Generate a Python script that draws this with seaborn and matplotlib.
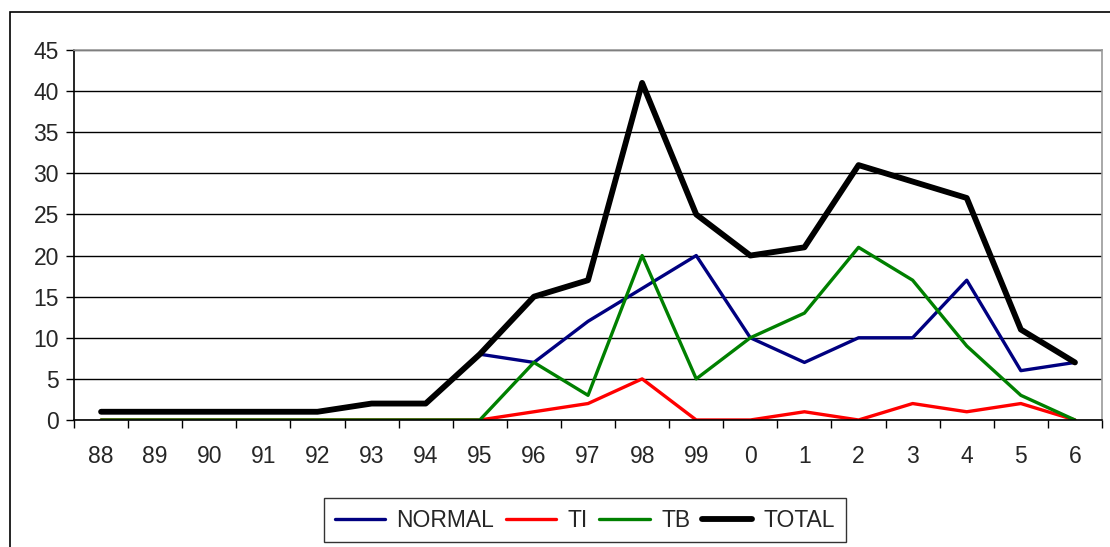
import numpy as np
import pandas as pd
import seaborn as sns
import matplotlib.pyplot as plt
from matplotlib.patches import Rectangle

years = ["88", "89", "90", "91", "92", "93", "94", "95", "96", "97",
         "98", "99", "0", "1", "2", "3", "4", "5", "6"]
normal = [1, 1, 1, 1, 1, 2, 2, 8, 7, 12, 16, 20, 10, 7, 10, 10, 17, 6, 7]
ti = [0, 0, 0, 0, 0, 0, 0, 0, 1, 2, 5, 0, 0, 1, 0, 2, 1, 2, 0]
tb = [0, 0, 0, 0, 0, 0, 0, 0, 7, 3, 20, 5, 10, 13, 21, 17, 9, 3, 0]
total = [1, 1, 1, 1, 1, 2, 2, 8, 15, 17, 41, 25, 20, 21, 31, 29, 27, 11, 7]

sns.set_style("white")
plt.rcParams["font.family"] = ["Liberation Sans", "DejaVu Sans"]

pos = np.arange(len(years))
df = pd.DataFrame({"pos": pos, "NORMAL": normal, "TI": ti, "TB": tb, "TOTAL": total})

fig = plt.figure(figsize=(11.1, 5.47), dpi=100)
ax = fig.add_axes([0.0667, 0.2322, 0.9261, 0.6764])

# outer chart frame
fig.patches.append(Rectangle((0.009, -0.02), 1.02, 0.998, transform=fig.transFigure,
                             fill=False, edgecolor="black", linewidth=1.2, zorder=0))

series = [("NORMAL", "#000080", 2.4), ("TI", "#ff0000", 2.4),
          ("TB", "#008000", 2.4), ("TOTAL", "#000000", 4.2)]
for name, col, lw in series:
    sns.lineplot(data=df, x="pos", y=name, color=col, linewidth=lw, label=name,
                 ax=ax, solid_capstyle="round", solid_joinstyle="round")

fs = 16.5
ax.set_xlim(-0.5, len(years) - 0.5)
ax.set_ylim(0, 45)
ax.set_yticks(range(0, 46, 5))
ax.yaxis.grid(True, color="black", linewidth=1.0)
ax.set_axisbelow(True)
ax.set_xticks(pos)
ax.set_xticklabels(years)
ax.set_xticks(np.arange(-0.5, len(years), 1), minor=True)
ax.tick_params(axis="x", which="major", length=0, pad=18, labelsize=fs)
ax.tick_params(axis="x", which="minor", length=6, width=1, color="black", direction="out")
ax.tick_params(axis="y", length=6, width=1, color="black", direction="out", labelsize=fs, pad=5)
ax.xaxis.set_ticks_position("bottom")
ax.yaxis.set_ticks_position("left")
ax.set_xlabel("")
ax.set_ylabel("")

for s in ["left", "bottom"]:
    ax.spines[s].set_color("black")
    ax.spines[s].set_linewidth(1.2)
for s in ["top", "right"]:
    ax.spines[s].set_color("#999999")
    ax.spines[s].set_linewidth(1.2)

leg = ax.legend(loc="center", bbox_to_anchor=(0.527, 0.049), bbox_transform=fig.transFigure,
                ncol=4, frameon=True, fancybox=False, fontsize=fs, handlelength=2.2,
                handletextpad=0.5, columnspacing=0.5, borderpad=0.45, borderaxespad=0)
leg.get_frame().set_edgecolor("black")
leg.get_frame().set_linewidth(1.0)

fig.savefig("out.png", dpi=100)
